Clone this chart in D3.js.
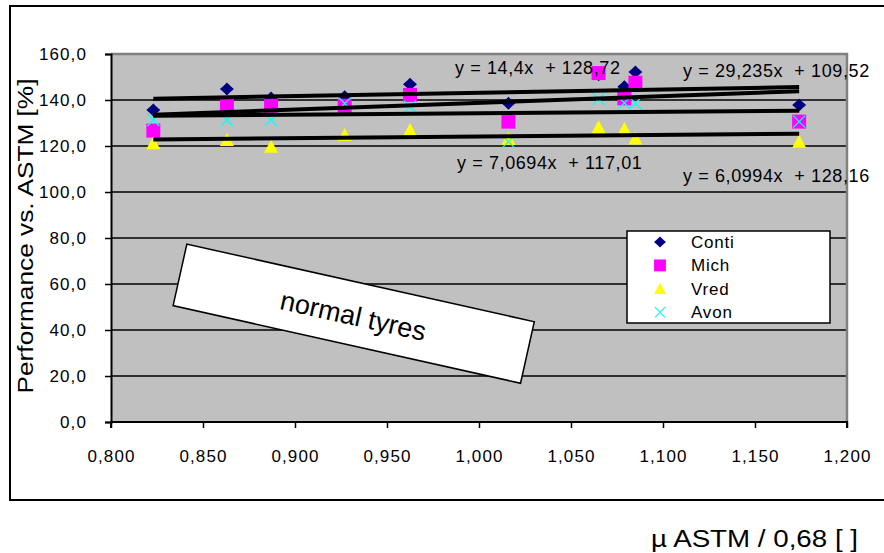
<!DOCTYPE html>
<html>
<head>
<meta charset="utf-8">
<script src="https://cdn.jsdelivr.net/npm/d3@7"></script>
<style>
  body { margin: 0; background: #fff; }
  text { font-family: "Liberation Sans", Arial, sans-serif; }
</style>
</head>
<body>
<div class="chart"></div>
<script>
// data
const xVals = [0.823, 0.863, 0.887, 0.927, 0.9625, 1.016, 1.065, 1.079, 1.085, 1.174];
const conti = [135.7, 144.8, 140.9, 141.4, 146.8, 138.6, 151.0, 145.8, 152.2, 137.8];
const mich  = [126.7, 138.3, 137.5, 137.5, 142.2, 130.6, 151.7, 140.7, 147.5, 130.6];
const vred  = [121.2, 122.6, 119.7, 124.8, 127.0, 123.0, 128.1, 127.4, 123.3, 121.9];
const avon  = [131.3, 131.3, 131.3, 138.5, 137.1, 121.9, 140.4, 138.7, 138.6, 130.6];

const seriesNames = ['Conti', 'Mich', 'Vred', 'Avon'];
// trend line coefficients, as printed on the chart
const slopes = [14.4, 29.235, 7.0694, 6.0994];
const intercepts = [128.72, 109.52, 117.01, 128.16];
const eqLabels = ['y = 14,4x  + 128,72', 'y = 29,235x  + 109,52', 'y = 7,0694x  + 117,01', 'y = 6,0994x  + 128,16'];

const yTicks = [0, 20, 40, 60, 80, 100, 120, 140, 160];
const xTicks = [0.8, 0.85, 0.9, 0.95, 1.0, 1.05, 1.1, 1.15, 1.2];

var width = 884, height = 553;
var plot = { left: 111, right: 847, top: 54, bottom: 422 };

var svg = d3.select('.chart')
  .append('svg')
  .attr('width', width)
  .attr('height', height);

var xScale = d3.scaleLinear().domain([0.8, 1.2]).range([plot.left, plot.right]);
var yScale = d3.scaleLinear().domain([0, 160]).range([plot.bottom, plot.top]);

const comma = f => (v => d3.format(f)(v).replace('.', ','));

// outer frame
svg.append('rect')
  .attr('x', 10).attr('y', 6)
  .attr('width', 890).attr('height', 494)
  .style('fill', 'none')
  .style('stroke', '#000')
  .style('stroke-width', 2);

// plot area
svg.append('rect')
  .attr('x', plot.left).attr('y', plot.top)
  .attr('width', plot.right - plot.left)
  .attr('height', plot.bottom - plot.top)
  .style('fill', '#c0c0c0');

// horizontal gridlines
svg.selectAll('.grid')
  .data(yTicks.filter(d => d > 0 && d < 160))
  .enter()
  .append('line')
  .attr('class', 'grid')
  .attr('x1', plot.left).attr('x2', plot.right)
  .attr('y1', d => yScale(d)).attr('y2', d => yScale(d))
  .style('stroke', '#000')
  .style('stroke-width', 1.4);

// gray top / right border
svg.append('path')
  .attr('d', `M${plot.left},${plot.top}H${plot.right}V${plot.bottom}`)
  .style('fill', 'none')
  .style('stroke', '#808080')
  .style('stroke-width', 2.5);

// axes
var yAxis = svg.append('g')
  .attr('transform', `translate(${plot.left},0)`)
  .call(d3.axisLeft(yScale).tickValues(yTicks).tickSize(6).tickPadding(18).tickFormat(comma('.1f')));

var xAxis = svg.append('g')
  .attr('transform', `translate(0,${plot.bottom})`)
  .call(d3.axisBottom(xScale).tickValues(xTicks).tickSize(6).tickPadding(22).tickFormat(comma('.3f')));

[yAxis, xAxis].forEach(ax => {
  ax.select('.domain').style('stroke', '#000').style('stroke-width', 2);
  ax.selectAll('.tick line').style('stroke', '#000').style('stroke-width', 1.5);
  ax.selectAll('.tick text')
    .style('font-size', '17px')
    .style('letter-spacing', '1.1px')
    .style('fill', '#000');
});
xAxis.select('.domain').attr('d', `M${plot.left},6V0H${plot.right}V6`);

// markers
const markerPaths = {
  Conti: 'M0,-6.5L3,-3.5L7,0L3,3.5L0,6.5L-3,3.5L-7,0L-3,-3.5Z',
  Mich: 'M-7,-7H7V7H-7Z',
  Vred: 'M0,-7L7,6H-7Z',
  Avon: 'M-6,-6L6,6M6,-6L-6,6'
};
const colors = { Conti: '#000080', Mich: '#ff00ff', Vred: '#ffff00', Avon: '#00ffff' };
const allSeries = [conti, mich, vred, avon];

seriesNames.forEach((name, i) => {
  var pts = xVals.map((x, j) => ({ x: x, y: allSeries[i][j] }));
  svg.selectAll('.dot-' + name)
    .data(pts)
    .enter()
    .append('path')
    .attr('class', 'dot-' + name)
    .attr('transform', d => `translate(${xScale(d.x)},${yScale(d.y)})`)
    .attr('d', markerPaths[name])
    .style('fill', name === 'Avon' ? 'none' : colors[name])
    .style('stroke', name === 'Avon' ? colors[name] : 'none')
    .style('stroke-width', 1.3);
});

// trend lines
var xMin = d3.min(xVals), xMax = d3.max(xVals);
svg.selectAll('.trend')
  .data(slopes)
  .enter()
  .append('line')
  .attr('class', 'trend')
  .attr('x1', xScale(xMin))
  .attr('x2', xScale(xMax))
  .attr('y1', (m, i) => yScale(m * xMin + intercepts[i]))
  .attr('y2', (m, i) => yScale(m * xMax + intercepts[i]))
  .style('stroke', '#000')
  .style('stroke-width', 4);

// equation labels
const eqPos = [[455, 68], [683, 71], [457, 163], [683, 176]];
svg.selectAll('.eq')
  .data(eqLabels)
  .enter()
  .append('text')
  .attr('class', 'eq')
  .attr('x', (d, i) => eqPos[i][0])
  .attr('y', (d, i) => eqPos[i][1])
  .attr('dy', '0.35em')
  .style('font-size', '18px')
  .style('letter-spacing', '0.6px')
  .style('white-space', 'pre')
  .text(d => d);

// legend
var legend = svg.append('g').attr('transform', 'translate(627,231)');
legend.append('rect')
  .attr('width', 203).attr('height', 92)
  .style('fill', '#fff')
  .style('stroke', '#000')
  .style('stroke-width', 1.5);
var rows = legend.selectAll('.row')
  .data(seriesNames)
  .enter()
  .append('g')
  .attr('transform', (d, i) => `translate(0,${11 + i * 23.4})`);
rows.append('path')
  .attr('transform', 'translate(33,0) scale(0.85)')
  .attr('d', d => markerPaths[d])
  .style('fill', d => d === 'Avon' ? 'none' : colors[d])
  .style('stroke', d => d === 'Avon' ? colors[d] : 'none')
  .style('stroke-width', 1.3);
rows.append('text')
  .attr('x', 64)
  .attr('dy', '0.35em')
  .style('font-size', '17px')
  .style('letter-spacing', '0.8px')
  .text(d => d);

// "normal tyres" note, placed in data coordinates
const noteX = 0.9319, noteY = 47.1;
var note = svg.append('g')
  .attr('transform', `translate(${xScale(noteX)},${yScale(noteY)}) rotate(12.6)`);
note.append('rect')
  .attr('x', -178).attr('y', -31.5)
  .attr('width', 356).attr('height', 63)
  .style('fill', '#fff')
  .style('stroke', '#000')
  .style('stroke-width', 1.5);
note.append('text')
  .attr('y', 2)
  .attr('dy', '0.35em')
  .style('text-anchor', 'middle')
  .style('font-size', '27px')
  .text('normal tyres');

// axis titles
svg.append('text')
  .attr('transform', 'translate(25,' + 236 + ') rotate(-90)')
  .attr('dy', '0.35em')
  .style('text-anchor', 'middle')
  .style('font-size', '22px')
  .attr('textLength', 315)
  .attr('lengthAdjust', 'spacingAndGlyphs')
  .text('Performance vs. ASTM [%]');

svg.append('text')
  .attr('x', 858)
  .attr('y', 547)
  .style('text-anchor', 'end')
  .style('font-size', '23px')
  .attr('textLength', 207)
  .attr('lengthAdjust', 'spacingAndGlyphs')
  .text('µ ASTM / 0,68 [ ]');
</script>
</body>
</html>
